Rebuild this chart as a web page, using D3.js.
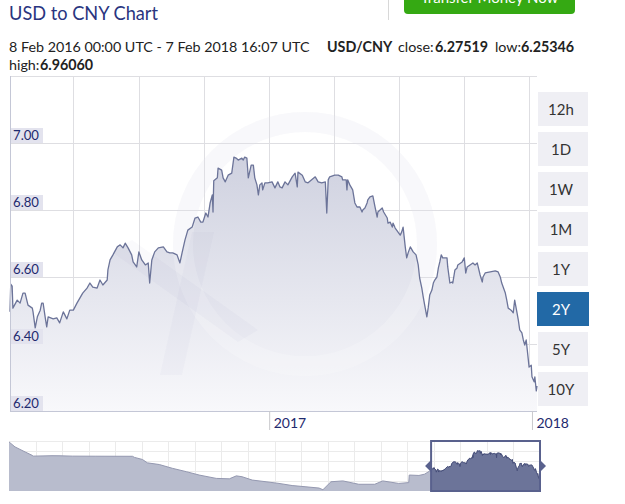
<!DOCTYPE html>
<html><head><meta charset="utf-8">
<script src="https://cdn.jsdelivr.net/npm/d3@7"></script>
<style>
html,body{margin:0;padding:0;background:#fff;overflow:hidden}
svg{display:block;font-family:Lato,"Open Sans",sans-serif}
</style></head><body>
<svg id="c" width="625" height="504"></svg>
<script>
// ---------- data ----------
const title = "USD to CNY Chart";
const buttonText = "Transfer Money Now";
const rangeText = "8 Feb 2016 00:00 UTC - 7 Feb 2018 16:07 UTC";
const pairLabel = "USD/CNY";
const statLabels = ["close:", "low:", "high:"];
const statValues = ["6.27519", "6.25346", "6.96060"];
const periods = ["12h","1D","1W","1M","1Y","2Y","5Y","10Y"];
const activePeriod = "2Y";
const yTicks = [6.2, 6.4, 6.6, 6.8, 7.0];
const yTickLabels = ["6.20","6.40","6.60","6.80","7.00"];
const xTickDates = ["2017-01-01","2018-01-01"];
const xTickLabels = ["2017","2018"];
const gridDates = ["2016-04-04","2016-07-04","2016-10-02","2017-01-01","2017-04-01","2017-06-30","2017-09-28","2017-12-28"];

const dates = ["2016-01-07","2016-01-08","2016-01-10","2016-01-11","2016-01-17","2016-01-21","2016-01-25","2016-01-28","2016-02-01","2016-02-07","2016-02-08","2016-02-11","2016-02-14","2016-02-18","2016-02-20","2016-02-22","2016-02-25","2016-02-27","2016-02-29","2016-03-07","2016-03-12","2016-03-16","2016-03-21","2016-03-26","2016-03-30","2016-04-04","2016-04-09","2016-04-13","2016-04-17","2016-04-23","2016-04-27","2016-05-01","2016-05-07","2016-05-11","2016-05-15","2016-05-21","2016-05-22","2016-05-25","2016-05-29","2016-06-04","2016-06-08","2016-06-12","2016-06-15","2016-06-19","2016-06-24","2016-06-26","2016-07-01","2016-07-04","2016-07-08","2016-07-13","2016-07-17","2016-07-19","2016-07-22","2016-07-26","2016-07-31","2016-08-07","2016-08-12","2016-08-16","2016-08-20","2016-08-26","2016-08-30","2016-09-02","2016-09-06","2016-09-10","2016-09-16","2016-09-20","2016-09-24","2016-09-28","2016-10-01","2016-10-05","2016-10-08","2016-10-11","2016-10-14","2016-10-15","2016-10-16","2016-10-21","2016-10-22","2016-10-27","2016-10-29","2016-11-01","2016-11-05","2016-11-10","2016-11-13","2016-11-16","2016-11-19","2016-11-24","2016-11-26","2016-11-28","2016-12-01","2016-12-03","2016-12-07","2016-12-10","2016-12-12","2016-12-15","2016-12-17","2016-12-19","2016-12-22","2016-12-23","2016-12-26","2016-12-30","2017-01-05","2017-01-09","2017-01-13","2017-01-16","2017-01-19","2017-01-23","2017-01-27","2017-02-02","2017-02-06","2017-02-09","2017-02-10","2017-02-16","2017-02-20","2017-02-24","2017-03-01","2017-03-06","2017-03-10","2017-03-15","2017-03-20","2017-03-22","2017-03-24","2017-03-26","2017-04-02","2017-04-07","2017-04-12","2017-04-13","2017-04-18","2017-04-19","2017-04-20","2017-04-23","2017-04-27","2017-04-30","2017-05-03","2017-05-07","2017-05-10","2017-05-11","2017-05-14","2017-05-17","2017-05-18","2017-05-21","2017-05-25","2017-05-28","2017-05-31","2017-06-01","2017-06-07","2017-06-09","2017-06-14","2017-06-15","2017-06-18","2017-06-21","2017-06-22","2017-06-25","2017-06-29","2017-07-02","2017-07-04","2017-07-06","2017-07-09","2017-07-11","2017-07-13","2017-07-16","2017-07-20","2017-07-24","2017-07-27","2017-07-29","2017-08-01","2017-08-03","2017-08-05","2017-08-08","2017-08-10","2017-08-12","2017-08-15","2017-08-17","2017-08-19","2017-08-22","2017-08-24","2017-08-26","2017-08-28","2017-08-30","2017-09-05","2017-09-06","2017-09-09","2017-09-12","2017-09-13","2017-09-16","2017-09-19","2017-09-20","2017-09-26","2017-09-29","2017-10-01","2017-10-03","2017-10-07","2017-10-11","2017-10-14","2017-10-17","2017-10-21","2017-10-24","2017-10-25","2017-10-28","2017-11-04","2017-11-11","2017-11-15","2017-11-18","2017-11-20","2017-11-22","2017-11-25","2017-11-27","2017-11-29","2017-12-03","2017-12-06","2017-12-08","2017-12-11","2017-12-13","2017-12-15","2017-12-18","2017-12-20","2017-12-22","2017-12-24","2017-12-27","2017-12-28","2017-12-31","2018-01-01","2018-01-04","2018-01-05","2018-01-07","2018-01-08"];
const rates = [6.496,6.579,6.573,6.507,6.531,6.522,6.552,6.552,6.516,6.507,6.496,6.448,6.481,6.501,6.522,6.522,6.478,6.451,6.481,6.475,6.478,6.463,6.496,6.475,6.501,6.501,6.522,6.537,6.552,6.567,6.582,6.570,6.567,6.591,6.576,6.591,6.621,6.651,6.666,6.690,6.696,6.687,6.701,6.687,6.666,6.645,6.630,6.675,6.651,6.636,6.642,6.582,6.651,6.675,6.687,6.690,6.675,6.672,6.672,6.666,6.642,6.672,6.710,6.740,6.749,6.776,6.779,6.764,6.764,6.791,6.779,6.821,6.845,6.794,6.887,6.896,6.925,6.919,6.896,6.884,6.904,6.910,6.958,6.955,6.949,6.955,6.949,6.958,6.955,6.896,6.934,6.934,6.896,6.875,6.845,6.875,6.881,6.860,6.881,6.881,6.884,6.866,6.884,6.869,6.866,6.884,6.875,6.899,6.910,6.869,6.913,6.904,6.884,6.881,6.890,6.899,6.884,6.881,6.884,6.791,6.890,6.899,6.904,6.904,6.899,6.890,6.890,6.860,6.890,6.875,6.860,6.821,6.809,6.809,6.794,6.800,6.806,6.821,6.830,6.839,6.842,6.809,6.779,6.794,6.806,6.794,6.776,6.761,6.764,6.749,6.761,6.746,6.734,6.725,6.734,6.749,6.690,6.657,6.672,6.690,6.675,6.666,6.636,6.597,6.567,6.540,6.516,6.481,6.510,6.546,6.561,6.582,6.591,6.600,6.627,6.645,6.666,6.657,6.657,6.630,6.582,6.585,6.582,6.621,6.627,6.636,6.645,6.657,6.612,6.630,6.636,6.642,6.636,6.642,6.606,6.585,6.600,6.612,6.615,6.618,6.615,6.600,6.582,6.570,6.552,6.531,6.507,6.501,6.493,6.531,6.496,6.472,6.442,6.433,6.412,6.397,6.412,6.352,6.331,6.337,6.302,6.287,6.302,6.260,6.275];

const historyDates = ["2008-04-01","2008-05-11","2008-06-14","2008-07-18","2008-09-03","2008-09-10","2009-01-15","2009-03-10","2009-06-01","2009-11-01","2010-03-01","2010-07-10","2010-07-23","2010-09-15","2010-10-18","2011-01-06","2011-04-04","2011-07-07","2011-10-01","2012-01-24","2012-04-21","2012-06-07","2012-07-15","2012-09-22","2012-12-24","2013-03-21","2013-06-17","2013-09-18","2013-12-15","2014-01-10","2014-03-05","2014-05-24","2014-09-08","2014-12-24","2015-02-16","2015-06-03","2015-08-10","2015-08-13","2015-10-17","2015-11-24"];
const historyRates = [7.168,7.05,6.99,6.93,6.85,6.83,6.84,6.838,6.83,6.828,6.827,6.826,6.80,6.75,6.67,6.63,6.54,6.46,6.38,6.30,6.29,6.36,6.34,6.26,6.22,6.18,6.13,6.10,6.07,6.03,6.22,6.24,6.16,6.16,6.24,6.18,6.20,6.38,6.37,6.40];

// ---------- setup ----------
const parse = d3.utcParse("%Y-%m-%d");
const series = dates.map((d, i) => ({date: parse(d), rate: rates[i]}));
const history = historyDates.map((d, i) => ({date: parse(d), rate: historyRates[i]}));
const fullSeries = history.concat(series);

const svg = d3.select("#c");
const defs = svg.append("defs");
const P = {left: 10, right: 537, top: 76, bottom: 411};
const x = d3.scaleUtc().domain([parse("2016-01-07"), parse("2018-01-08")]).range([P.left, P.right]);
const y = d3.scaleLinear().domain([6.2, 7.2]).range([P.bottom, P.top]);

const navBox = {left: 9, right: 540, top: 441, bottom: 491};
const navX = d3.scaleUtc().domain([parse("2008-04-01"), parse("2018-01-08")]).range([navBox.left, navBox.right]);
const navY = d3.scaleLinear().domain([6.0, 7.19]).range([navBox.bottom, navBox.top]);

const navy = "#1f2a6e";

// ---------- header ----------
svg.append("text").attr("x", 9).attr("y", 20)
  .attr("font-size", 19).attr("fill", "#2a3580")
  .attr("textLength", 149).attr("lengthAdjust", "spacingAndGlyphs")
  .text(title);
svg.append("line").attr("x1", 388.5).attr("x2", 388.5).attr("y1", 0).attr("y2", 20)
  .attr("stroke", "#d8d8d8");
svg.append("rect").attr("x", 404).attr("y", -6).attr("width", 171).attr("height", 20)
  .attr("rx", 4).attr("fill", "#35a913");
svg.append("text").attr("x", 489.5).attr("y", 3).attr("text-anchor", "middle")
  .attr("font-size", 15).attr("fill", "#fff").text(buttonText);

const seg = (t, xPos, yPos, bold) => svg.append("text").attr("x", xPos).attr("y", yPos)
  .attr("font-size", 14.3).attr("fill", "#222")
  .attr("font-weight", bold ? 700 : 400).text(t);
seg(rangeText, 9, 52, false);
seg(pairLabel, 327, 52, true);
seg(statLabels[0], 398, 52, false);
seg(statValues[0], 435, 52, true);
seg(statLabels[1], 495, 52, false);
seg(statValues[1], 521, 52, true);
seg(statLabels[2], 9, 70, false);
seg(statValues[2], 40, 70, true);

// ---------- main plot ----------
defs.append("clipPath").attr("id", "plotClip").append("rect")
  .attr("x", P.left).attr("y", P.top).attr("width", P.right - P.left).attr("height", P.bottom - P.top);
const grad = defs.append("linearGradient").attr("id", "areaGrad")
  .attr("gradientUnits", "userSpaceOnUse").attr("x1", 0).attr("x2", 0)
  .attr("y1", P.top).attr("y2", P.bottom);
grad.append("stop").attr("offset", "0%").attr("stop-color", "#c2c5d7");
grad.append("stop").attr("offset", "100%").attr("stop-color", "#f8f8fb");

const plotG = svg.append("g");
// grid
plotG.selectAll("line.vg").data(gridDates.map(parse)).join("line").attr("class", "vg")
  .attr("x1", d => Math.round(x(d)) + 0.5).attr("x2", d => Math.round(x(d)) + 0.5)
  .attr("y1", P.top).attr("y2", P.bottom).attr("stroke", "#dedee2");
plotG.selectAll("line.hg").data(yTicks.concat([7.2])).join("line").attr("class", "hg")
  .attr("x1", P.left).attr("x2", P.right)
  .attr("y1", d => Math.round(y(d)) + 0.5).attr("y2", d => Math.round(y(d)) + 0.5)
  .attr("stroke", "#dedee2");

// watermark ring (behind)
const wm = plotG.append("g").attr("clip-path", "url(#plotClip)");
wm.append("circle").attr("cx", 305).attr("cy", 244).attr("r", 122)
  .attr("fill", "none").attr("stroke", "#5a6496").attr("stroke-opacity", 0.05).attr("stroke-width", 20);

// area + line
const area = d3.area().x(d => x(d.date)).y0(y(6.2)).y1(d => y(d.rate));
const line = d3.line().x(d => x(d.date)).y(d => y(d.rate));
plotG.append("path").datum(series).attr("d", area).attr("fill", "url(#areaGrad)");
// watermark over area
const wm2 = plotG.append("g").attr("clip-path", "url(#plotClip)").attr("fill", "#5a6496").attr("fill-opacity", 0.03);
wm2.append("circle").attr("cx", 305).attr("cy", 244).attr("r", 122)
  .attr("fill", "none").attr("stroke", "#ffffff").attr("stroke-opacity", 0.2).attr("stroke-width", 20);
wm2.append("path").attr("d", "M160,375 L182,375 L214,232 L192,232 Z");
wm2.append("path").attr("d", "M112,252 L132,240 L258,330 L238,342 Z");
plotG.append("path").datum(series).attr("d", line).attr("fill", "none")
  .attr("stroke", "#6c7499").attr("stroke-width", 1.3).attr("stroke-linejoin", "round");

// borders
plotG.append("line").attr("x1", P.left + 0.5).attr("x2", P.left + 0.5).attr("y1", P.top).attr("y2", P.bottom)
  .attr("stroke", "#c4c7d6");
plotG.append("line").attr("x1", P.left).attr("x2", P.right).attr("y1", P.bottom + 0.5).attr("y2", P.bottom + 0.5)
  .attr("stroke", "#c4c7d6");

// y labels
const yl = plotG.selectAll("g.yl").data(yTicks).join("g").attr("class", "yl");
yl.append("rect").attr("x", 11).attr("y", d => y(d) - 15).attr("width", 32).attr("height", 15)
  .attr("fill", "#e3e3ee");
yl.append("text").attr("x", 13).attr("y", d => y(d) - 3).attr("font-size", 14)
  .attr("fill", navy).attr("textLength", 26).attr("lengthAdjust", "spacingAndGlyphs")
  .text((d, i) => yTickLabels[i]);

// x axis
const xAxis = d3.axisBottom(x).tickValues(xTickDates.map(parse))
  .tickFormat((d, i) => xTickLabels[i]).tickSize(19);
const xg = svg.append("g").attr("transform", `translate(0,${P.bottom})`).call(xAxis);
xg.select(".domain").remove();
xg.selectAll(".tick line").attr("stroke", "#c8c8cc");
xg.selectAll(".tick text").attr("x", 4).attr("y", 7).attr("text-anchor", "start")
  .attr("font-size", 14).attr("font-family", "Lato").attr("fill", navy);

// ---------- period buttons ----------
const band = d3.scaleBand().domain(periods).range([92, 406]).paddingInner(0.15).paddingOuter(0);
const pb = svg.selectAll("g.pb").data(periods).join("g").attr("class", "pb");
pb.append("rect").attr("x", d => d === activePeriod ? 537 : 538).attr("y", d => band(d))
  .attr("width", d => d === activePeriod ? 52 : 50).attr("height", band.bandwidth())
  .attr("fill", d => d === activePeriod ? "#2269a6" : "#efeff4");
pb.append("text").attr("x", 561).attr("y", d => band(d) + band.bandwidth() / 2 + 5.5)
  .attr("text-anchor", "middle").attr("font-size", 15)
  .attr("fill", d => d === activePeriod ? "#fff" : "#333").text(d => d);

// ---------- navigator ----------
const nav = svg.append("g");
const nw = navBox.right - navBox.left, nh = navBox.bottom - navBox.top;
nav.selectAll("line.nvg").data(d3.range(1, 20)).join("line").attr("class", "nvg")
  .attr("x1", i => Math.round(navBox.left + i * nw / 20) + 0.5).attr("x2", i => Math.round(navBox.left + i * nw / 20) + 0.5)
  .attr("y1", navBox.top).attr("y2", navBox.bottom).attr("stroke", "#ebebeb");
nav.selectAll("line.nhg").data(d3.range(0, 5)).join("line").attr("class", "nhg")
  .attr("x1", navBox.left).attr("x2", navBox.right)
  .attr("y1", i => Math.round(navBox.top + i * nh / 5) + 0.5).attr("y2", i => Math.round(navBox.top + i * nh / 5) + 0.5)
  .attr("stroke", "#ebebeb");
const navArea = d3.area().x(d => navX(d.date)).y0(navBox.bottom).y1(d => navY(d.rate));
const navLine = d3.line().x(d => navX(d.date)).y(d => navY(d.rate));
nav.append("path").datum(fullSeries).attr("d", navArea).attr("fill", "#b8bccd");
nav.append("path").datum(fullSeries).attr("d", navLine).attr("fill", "none").attr("stroke", "#9498b0").attr("stroke-width", 1);
const selL = navX(x.domain()[0]), selR = navX(x.domain()[1]);
defs.append("clipPath").attr("id", "selClip").append("rect")
  .attr("x", selL).attr("y", navBox.top).attr("width", selR - selL).attr("height", nh);
nav.append("path").datum(fullSeries).attr("d", navArea).attr("fill", "#6c7499").attr("clip-path", "url(#selClip)");
nav.append("path").datum(fullSeries).attr("d", navLine).attr("fill", "none").attr("stroke", "#454d78")
  .attr("stroke-width", 1).attr("clip-path", "url(#selClip)");
nav.append("rect").attr("x", selL).attr("y", navBox.top).attr("width", selR - selL).attr("height", nh)
  .attr("fill", "none").attr("stroke", "#59618d").attr("stroke-width", 2);
const hy = navBox.top + nh / 2;
nav.append("path").attr("d", `M${selL},${hy - 6} L${selL - 6},${hy} L${selL},${hy + 6} Z`).attr("fill", "#59618d");
nav.append("path").attr("d", `M${selR},${hy - 6} L${selR + 6},${hy} L${selR},${hy + 6} Z`).attr("fill", "#59618d");
</script>
</body></html>
